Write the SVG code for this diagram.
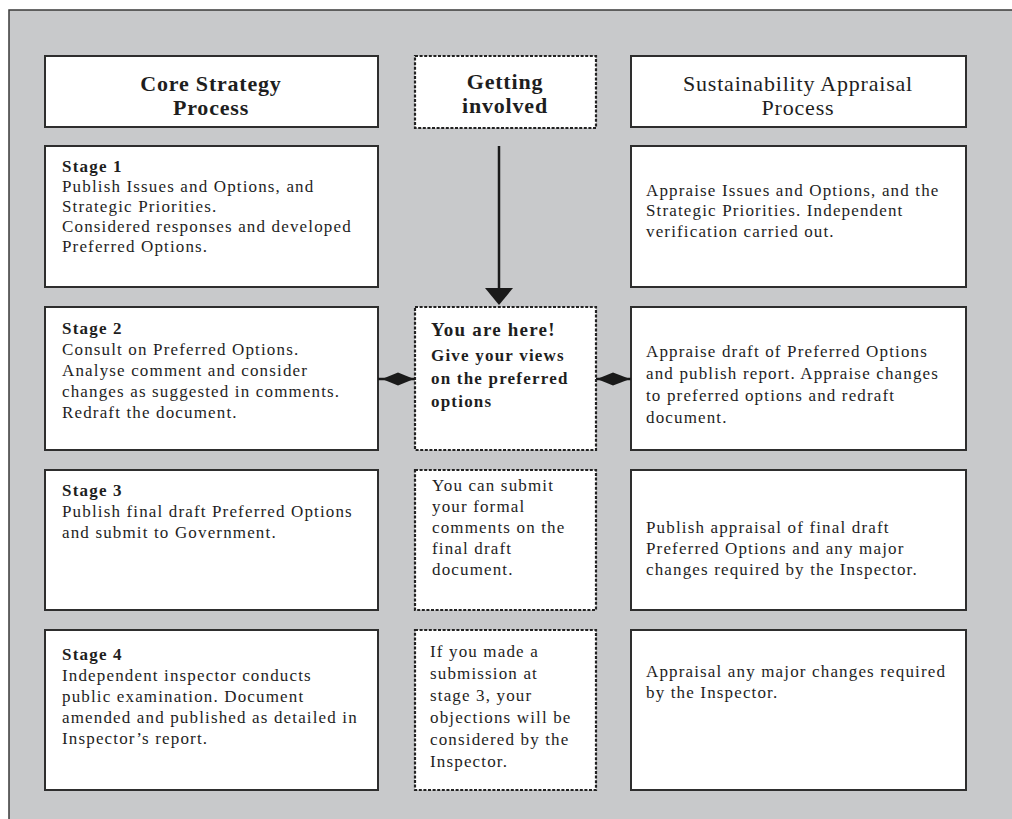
<svg xmlns="http://www.w3.org/2000/svg" width="1012" height="819" viewBox="0 0 1012 819">
<style>
.bg{fill:#c8c9cb;stroke:#3a3a3a;stroke-width:1.5}
.box{fill:#fff;stroke:#2e2e2e;stroke-width:2}
.dot{fill:#fff;stroke:#222;stroke-width:2.2;stroke-dasharray:3 1.6}
text{font-family:"Liberation Serif","Times New Roman",serif;fill:#1e1e1e}
.t{font-size:17px;letter-spacing:1.15px}
.tb{font-size:17px;letter-spacing:1.2px;font-weight:bold}
.h{font-size:22px;letter-spacing:0.8px}
.b{font-weight:bold}
.c{text-anchor:middle}
.con{stroke:#1a1a1a;stroke-width:2.5;fill:none}
.head{fill:#1a1a1a}
</style>
<rect class="bg" x="9" y="10" width="1015" height="820"/>

<g id="hdr-core">
<rect class="box" x="45" y="56" width="333" height="71"/>
<text class="h b c" x="211" y="91">Core Strategy</text>
<text class="h b c" x="211" y="115">Process</text>
</g>
<g id="hdr-involved">
<rect class="dot" x="415" y="56" width="181" height="72"/>
<text class="h b c" x="505" y="89">Getting</text>
<text class="h b c" x="505" y="113">involved</text>
</g>
<g id="hdr-sa">
<rect class="box" x="631" y="56" width="335" height="71"/>
<text class="h c" x="798" y="91">Sustainability Appraisal</text>
<text class="h c" x="798" y="115">Process</text>
</g>

<g id="stage1">
<rect class="box" x="45" y="146" width="333" height="141"/>
<text class="tb" x="62" y="172">Stage 1</text>
<text class="t" x="62" y="192">Publish Issues and Options, and</text>
<text class="t" x="62" y="212">Strategic Priorities.</text>
<text class="t" x="62" y="232">Considered responses and developed</text>
<text class="t" x="62" y="252">Preferred Options.</text>
</g>
<g id="sa1">
<rect class="box" x="631" y="146" width="335" height="141"/>
<text class="t" x="646" y="196">Appraise Issues and Options, and the</text>
<text class="t" x="646" y="216">Strategic Priorities. Independent</text>
<text class="t" x="646" y="237">verification carried out.</text>
</g>

<g id="stage2">
<rect class="box" x="45" y="307" width="333" height="143"/>
<text class="tb" x="62" y="334">Stage 2</text>
<text class="t" x="62" y="355">Consult on Preferred Options.</text>
<text class="t" x="62" y="376">Analyse comment and consider</text>
<text class="t" x="62" y="397">changes as suggested in comments.</text>
<text class="t" x="62" y="418">Redraft the document.</text>
</g>
<g id="here">
<rect class="dot" x="415" y="307" width="181" height="143"/>
<text class="b" font-size="19" letter-spacing="1.2" x="431" y="336">You are here!</text>
<text class="tb" x="431" y="361">Give your views</text>
<text class="tb" x="431" y="384">on the preferred</text>
<text class="tb" x="431" y="407">options</text>
</g>
<g id="sa2">
<rect class="box" x="631" y="307" width="335" height="143"/>
<text class="t" x="646" y="357">Appraise draft of Preferred Options</text>
<text class="t" x="646" y="379">and publish report.  Appraise changes</text>
<text class="t" x="646" y="401">to preferred options and redraft</text>
<text class="t" x="646" y="423">document.</text>
</g>

<g id="stage3">
<rect class="box" x="45" y="470" width="333" height="140"/>
<text class="tb" x="62" y="496">Stage 3</text>
<text class="t" x="62" y="517">Publish final draft Preferred Options</text>
<text class="t" x="62" y="538">and submit to Government.</text>
</g>
<g id="submit">
<rect class="dot" x="415" y="470" width="181" height="140"/>
<text class="t" x="432" y="491">You can submit</text>
<text class="t" x="432" y="512">your formal</text>
<text class="t" x="432" y="533">comments on the</text>
<text class="t" x="432" y="554">final draft</text>
<text class="t" x="432" y="575">document.</text>
</g>
<g id="sa3">
<rect class="box" x="631" y="470" width="335" height="140"/>
<text class="t" x="646" y="533">Publish appraisal of final draft</text>
<text class="t" x="646" y="554">Preferred Options and any major</text>
<text class="t" x="646" y="575">changes required by the Inspector.</text>
</g>

<g id="stage4">
<rect class="box" x="45" y="630" width="333" height="160"/>
<text class="tb" x="62" y="660">Stage 4</text>
<text class="t" x="62" y="681">Independent inspector conducts</text>
<text class="t" x="62" y="702">public examination. Document</text>
<text class="t" x="62" y="723">amended and published as detailed in</text>
<text class="t" x="62" y="744">Inspector’s report.</text>
</g>
<g id="objections">
<rect class="dot" x="415" y="630" width="181" height="160"/>
<text class="t" x="430" y="657">If you made a</text>
<text class="t" x="430" y="679">submission at</text>
<text class="t" x="430" y="701">stage 3, your</text>
<text class="t" x="430" y="723">objections will be</text>
<text class="t" x="430" y="745">considered by the</text>
<text class="t" x="430" y="767">Inspector.</text>
</g>
<g id="sa4">
<rect class="box" x="631" y="630" width="335" height="160"/>
<text class="t" x="646" y="677">Appraisal any major changes required</text>
<text class="t" x="646" y="698">by the Inspector.</text>
</g>

<g id="connectors">
<line class="con" x1="499" y1="146" x2="499" y2="290"/>
<polygon class="head" points="485,288 513,288 499,305"/>
<line class="con" x1="378" y1="379" x2="415" y2="379"/>
<polygon class="head" points="382,379 398,372.5 414,379 398,385.5"/>
<line class="con" x1="596" y1="379" x2="631" y2="379"/>
<polygon class="head" points="597,379 613,372.5 630,379 613,385.5"/>
</g>
</svg>
